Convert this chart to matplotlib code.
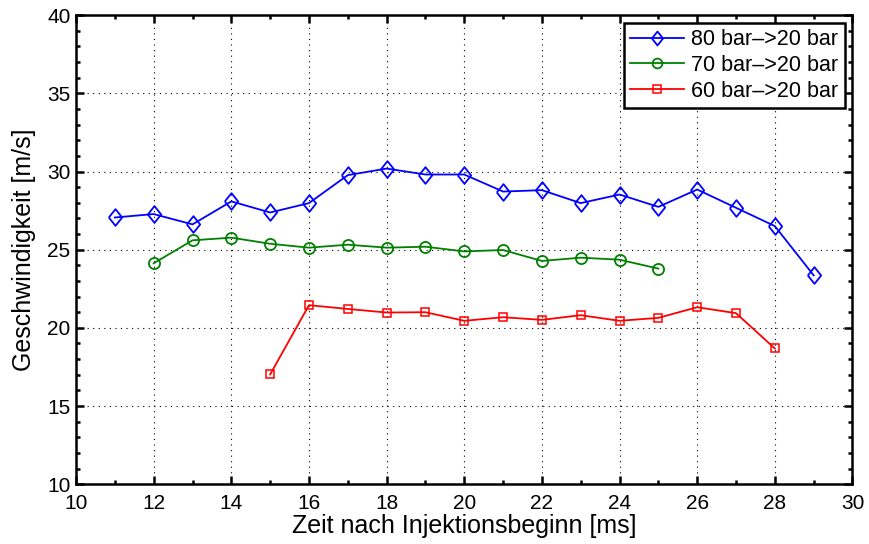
import matplotlib
matplotlib.use("Agg")
import matplotlib.pyplot as plt
from matplotlib.ticker import MultipleLocator

plt.rcParams['font.family'] = ['Liberation Sans', 'DejaVu Sans']

# data
t80 = [11, 12, 13, 14, 15, 16, 17, 18, 19, 20, 21, 22, 23, 24, 25, 26, 27, 28, 29]
v80 = [27.06, 27.28, 26.62, 28.09, 27.38, 27.98, 29.77, 30.19, 29.81, 29.81,
       28.72, 28.81, 27.98, 28.53, 27.74, 28.85, 27.68, 26.51, 23.36]
t70 = [12, 13, 14, 15, 16, 17, 18, 19, 20, 21, 22, 23, 24, 25]
v70 = [24.13, 25.60, 25.77, 25.38, 25.13, 25.32, 25.13, 25.19, 24.89,
       24.98, 24.28, 24.49, 24.36, 23.79]
t60 = [15, 16, 17, 18, 19, 20, 21, 22, 23, 24, 25, 26, 27, 28]
v60 = [17.02, 21.45, 21.21, 20.98, 21.00, 20.45, 20.68, 20.51, 20.81,
       20.45, 20.64, 21.32, 20.94, 18.68]
labels = ["80 bar\u2013>20 bar", "70 bar\u2013>20 bar", "60 bar\u2013>20 bar"]

# diamond a bit wider than matplotlib's 'd'
diamond = [(-0.4, 0), (0, 0.5), (0.4, 0), (0, -0.5), (-0.4, 0)]

fig = plt.figure(figsize=(8.69, 5.44), dpi=100)
ax = fig.add_axes([0.0875, 0.110, 0.8935, 0.862])

ax.plot(t80, v80, color=(0, 0, 1), lw=1.3, marker=diamond, ms=12, mfc='none', mew=1.3, label=labels[0])
ax.plot(t70, v70, color=(0, 0.5, 0), lw=1.3, marker='o', ms=8, mfc='none', mew=1.3, label=labels[1])
ax.plot(t60, v60, color=(1, 0, 0), lw=1.3, marker='s', ms=6, mfc='none', mew=1.1, label=labels[2])

ax.set_xlim(10, 30)
ax.set_ylim(10, 40)
ax.xaxis.set_major_locator(MultipleLocator(2))
ax.yaxis.set_major_locator(MultipleLocator(5))
ax.xaxis.set_minor_locator(MultipleLocator(1))
ax.yaxis.set_minor_locator(MultipleLocator(1))
ax.tick_params(which='both', direction='in', top=True, right=True, labelsize=15, width=1.8)
ax.tick_params(which='major', length=6)
ax.tick_params(which='minor', length=3)
ax.tick_params(axis='x', which='major', pad=7)
ax.tick_params(axis='y', which='major', pad=4)
ax.grid(True, which='major', color='black', linestyle=(0, (1, 4)), linewidth=0.8)
for s in ax.spines.values():
    s.set_linewidth(1.8)

ax.set_xlabel("Zeit nach Injektionsbeginn [ms]", fontsize=18, labelpad=1)
ax.set_ylabel("Geschwindigkeit [m/s]", fontsize=18, labelpad=8)

leg = ax.legend(loc='upper right', fontsize=15.5, fancybox=False, framealpha=1,
                edgecolor='black', handlelength=2.5, borderpad=0.3, labelspacing=0.22,
                handletextpad=0.35, borderaxespad=0.35)
leg.get_frame().set_linewidth(1.8)
for h, s in zip(leg.legend_handles, [10, 7, 6]):
    h.set_markersize(s)

fig.savefig("out.png", dpi=100)
